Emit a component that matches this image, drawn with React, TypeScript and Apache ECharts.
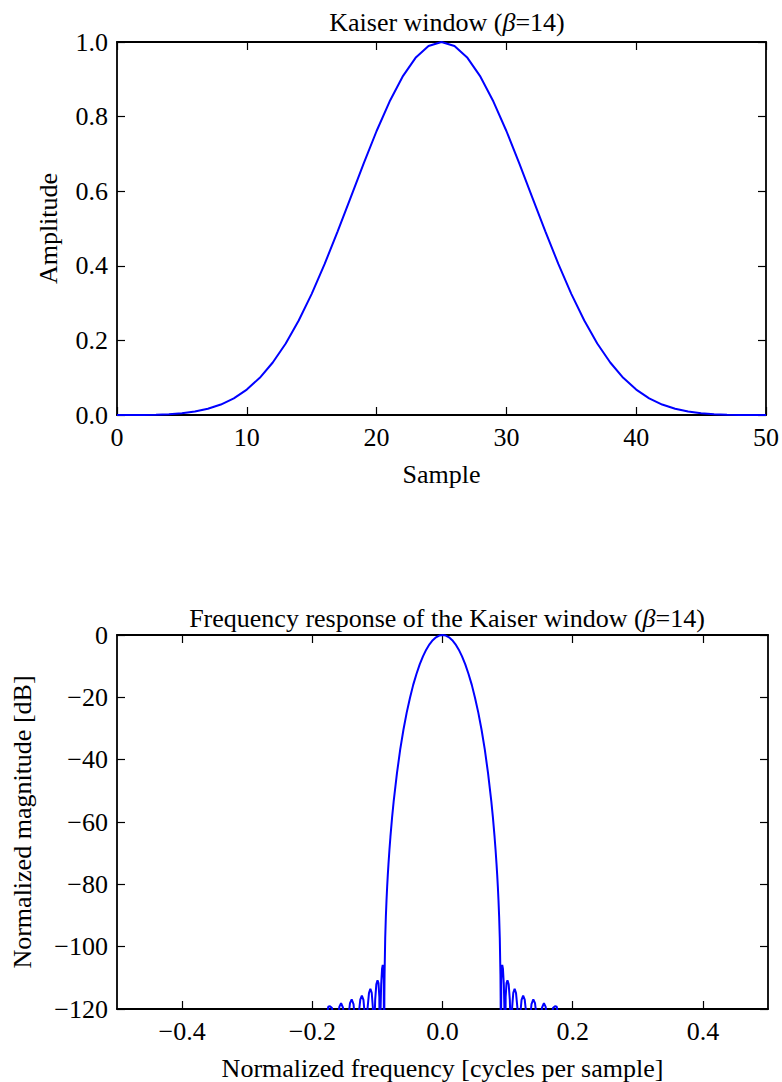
import React, { useEffect, useRef } from "react";
import * as echarts from "echarts";

// ---- Top panel: Kaiser window (beta = 14), 51 samples ----
const sampleIndex = [
  0, 1, 2, 3, 4, 5, 6, 7, 8, 9, 10, 11, 12, 13, 14, 15, 16, 17, 18, 19, 20, 21, 22, 23, 24, 25,
  26, 27, 28, 29, 30, 31, 32, 33, 34, 35, 36, 37, 38, 39, 40, 41, 42, 43, 44, 45, 46, 47, 48, 49, 50,
];
const windowValues = [
  0.0000077, 0.000081, 0.000326, 0.000943, 0.002266, 0.004805, 0.009276, 0.01661, 0.02798, 0.04468,
  0.0682, 0.0998, 0.1407, 0.1918, 0.2534, 0.3248, 0.4051, 0.4923, 0.583, 0.6741, 0.7614, 0.8404,
  0.907, 0.9576, 0.9893, 1.0, 0.9893, 0.9576, 0.907, 0.8404, 0.7614, 0.6741, 0.583, 0.4923, 0.4051,
  0.3248, 0.2534, 0.1918, 0.1407, 0.0998, 0.0682, 0.04468, 0.02798, 0.01661, 0.009276, 0.004805,
  0.002266, 0.000943, 0.000326, 0.000081, 0.0000077,
];

// ---- Bottom panel: frequency response in dB (values below -120 are clipped) ----
const leftSideFreq = [
  -0.5, -0.1815, -0.1785, -0.1756, -0.1728, -0.1697, -0.167, -0.1642, -0.161, -0.1585, -0.1558,
  -0.1528, -0.15, -0.1475, -0.1447, -0.1421, -0.1395, -0.1367, -0.1345, -0.13133, -0.12871, -0.12629,
  -0.1239, -0.12143, -0.11941, -0.11742, -0.11651, -0.11509, -0.11295, -0.1108, -0.10873, -0.107,
  -0.10534, -0.10458, -0.1034, -0.10166, -0.0998, -0.09833, -0.09702, -0.09578, -0.09514, -0.09424,
  -0.09284, -0.09177, -0.09102, -0.09024,
];
const leftSideDb = [
  -160, -160, -125, -119.3, -119.1, -119.7, -125, -160, -125, -119.3, -118.1, -119.6, -125, -160,
  -122.8, -118.1, -116.9, -118.4, -123.2, -160, -121.7, -117.0, -115.7, -117.1, -121.8, -160, -127.7,
  -119.7, -114.9, -113.5, -114.8, -119.4, -160, -125.2, -117.0, -112.1, -110.8, -111.7, -116.1, -160,
  -120.4, -112.3, -107.1, -105.9, -106.7, -110.7,
];
const mainLobeFreq = [
  -0.08955, -0.0893, -0.089, -0.088, -0.087, -0.086, -0.085, -0.084, -0.083, -0.0815, -0.08, -0.0775,
  -0.075, -0.07, -0.065, -0.06, -0.055, -0.05, -0.045, -0.04, -0.035, -0.03, -0.025, -0.02, -0.015,
  -0.01, -0.005, 0, 0.005, 0.01, 0.015, 0.02, 0.025, 0.03, 0.035, 0.04, 0.045, 0.05, 0.055, 0.06,
  0.065, 0.07, 0.075, 0.0775, 0.08, 0.0815, 0.083, 0.084, 0.085, 0.086, 0.087, 0.088, 0.089, 0.0893,
  0.08955,
];
const mainLobeDb = [
  -160, -116.5, -108.9, -97.2, -90.3, -85.1, -80.7, -76.9, -73.5, -68.9, -64.8, -58.7, -53.4, -44.4,
  -36.8, -30.4, -24.9, -20.2, -16.0, -12.5, -9.42, -6.85, -4.71, -3.0, -1.68, -0.74, -0.19, 0, -0.19,
  -0.74, -1.68, -3.0, -4.71, -6.85, -9.42, -12.5, -16.0, -20.2, -24.9, -30.4, -36.8, -44.4, -53.4,
  -58.7, -64.8, -68.9, -73.5, -76.9, -80.7, -85.1, -90.3, -97.2, -108.9, -116.5, -160,
];
const rightSideFreq = [
  0.09024, 0.09102, 0.09177, 0.09284, 0.09424, 0.09514, 0.09578, 0.09702, 0.09833, 0.0998, 0.10166,
  0.1034, 0.10458, 0.10534, 0.107, 0.10873, 0.1108, 0.11295, 0.11509, 0.11651, 0.11742, 0.11941,
  0.12143, 0.1239, 0.12629, 0.12871, 0.13133, 0.1345, 0.1367, 0.1395, 0.1421, 0.1447, 0.1475, 0.15,
  0.1528, 0.1558, 0.1585, 0.161, 0.1642, 0.167, 0.1697, 0.1728, 0.1756, 0.1785, 0.1815, 0.5,
];
const rightSideDb = [
  -110.7, -106.7, -105.9, -107.1, -112.3, -120.4, -160, -116.1, -111.7, -110.8, -112.1, -117.0,
  -125.2, -160, -119.4, -114.8, -113.5, -114.9, -119.7, -127.7, -160, -121.8, -117.1, -115.7, -117.0,
  -121.7, -160, -123.2, -118.4, -116.9, -118.1, -122.8, -160, -125, -119.6, -118.1, -119.3, -125,
  -160, -125, -119.7, -119.1, -119.3, -125, -160, -160,
];

const bottomXTicks = [-0.4, -0.2, 0, 0.2, 0.4];

const FONT = '"Liberation Serif", "Times New Roman", Times, serif';
const BLUE = "#0000ff";
const FS = 26;

function zip(xs: number[], ys: number[]) {
  return xs.map((x, i) => [x, ys[i]]);
}

const minus = (s: string) => s.replace("-", "\u2212");

export default function App() {
  const ref = useRef<HTMLDivElement>(null);

  useEffect(() => {
    if (!ref.current) return;
    const chart = echarts.init(ref.current, null, { renderer: "svg" });

    const spine = { show: true, onZero: false, lineStyle: { color: "#000", width: 1.8 } };
    const tick = { show: true, inside: true, length: 8, lineStyle: { color: "#000", width: 1.2 } };
    const label = { fontFamily: FONT, fontSize: FS, color: "#000" };
    const nameStyle = { fontFamily: FONT, fontSize: FS, color: "#000" };
    const titleStyle = {
      fontFamily: FONT,
      fontSize: FS,
      fontWeight: "normal" as const,
      color: "#000",
      rich: {
        b: { fontFamily: FONT, fontSize: FS, fontStyle: "italic" as const, color: "#000" },
      },
    };

    const responseData = [
      ...zip(leftSideFreq, leftSideDb),
      ...zip(mainLobeFreq, mainLobeDb),
      ...zip(rightSideFreq, rightSideDb),
    ];

    chart.setOption({
      animation: false,
      backgroundColor: "#fff",
      title: [
        {
          text: "Kaiser window ({b|β}=14)",
          left: 442,
          top: 4,
          textAlign: "center",
          textStyle: titleStyle,
        },
        {
          text: "Frequency response of the Kaiser window ({b|β}=14)",
          left: 442,
          top: 600,
          textAlign: "center",
          textStyle: titleStyle,
        },
      ],
      grid: [
        { left: 117, right: 14, top: 42, height: 373 },
        { left: 117, right: 14, top: 635, height: 374 },
      ],
      xAxis: [
        {
          type: "value",
          gridIndex: 0,
          min: 0,
          max: 50,
          interval: 10,
          position: "bottom",
          axisLine: spine,
          axisTick: tick,
          splitLine: { show: false },
          axisLabel: { ...label, margin: 9, formatter: (v: number) => String(v) },
          name: "Sample",
          nameLocation: "middle",
          nameGap: 46,
          nameTextStyle: nameStyle,
        },
        {
          type: "value",
          gridIndex: 0,
          min: 0,
          max: 50,
          interval: 10,
          position: "top",
          axisLine: spine,
          axisTick: tick,
          splitLine: { show: false },
          axisLabel: { show: false },
        },
        {
          type: "value",
          gridIndex: 1,
          min: -0.5,
          max: 0.5,
          position: "bottom",
          axisLine: spine,
          axisTick: { ...tick, customValues: bottomXTicks },
          splitLine: { show: false },
          axisLabel: {
            ...label,
            margin: 9,
            customValues: bottomXTicks,
            formatter: (v: number) => minus(v.toFixed(1)),
          },
          name: "Normalized frequency [cycles per sample]",
          nameLocation: "middle",
          nameGap: 46,
          nameTextStyle: nameStyle,
        },
        {
          type: "value",
          gridIndex: 1,
          min: -0.5,
          max: 0.5,
          position: "top",
          axisLine: spine,
          axisTick: { ...tick, customValues: bottomXTicks },
          splitLine: { show: false },
          axisLabel: { show: false },
        },
      ],
      yAxis: [
        {
          type: "value",
          gridIndex: 0,
          min: 0,
          max: 1,
          interval: 0.2,
          position: "left",
          axisLine: spine,
          axisTick: tick,
          splitLine: { show: false },
          axisLabel: { ...label, margin: 9, formatter: (v: number) => v.toFixed(1) },
          name: "Amplitude",
          nameLocation: "middle",
          nameGap: 56,
          nameTextStyle: nameStyle,
        },
        {
          type: "value",
          gridIndex: 0,
          min: 0,
          max: 1,
          interval: 0.2,
          position: "right",
          axisLine: spine,
          axisTick: tick,
          splitLine: { show: false },
          axisLabel: { show: false },
        },
        {
          type: "value",
          gridIndex: 1,
          min: -120,
          max: 0,
          interval: 20,
          position: "left",
          axisLine: spine,
          axisTick: tick,
          splitLine: { show: false },
          axisLabel: { ...label, margin: 9, formatter: (v: number) => minus(String(v)) },
          name: "Normalized magnitude [dB]",
          nameLocation: "middle",
          nameGap: 82,
          nameTextStyle: nameStyle,
        },
        {
          type: "value",
          gridIndex: 1,
          min: -120,
          max: 0,
          interval: 20,
          position: "right",
          axisLine: spine,
          axisTick: tick,
          splitLine: { show: false },
          axisLabel: { show: false },
        },
      ],
      series: [
        {
          type: "line",
          xAxisIndex: 0,
          yAxisIndex: 0,
          data: zip(sampleIndex, windowValues),
          showSymbol: false,
          clip: true,
          lineStyle: { color: BLUE, width: 2 },
          itemStyle: { color: BLUE },
        },
        {
          type: "line",
          xAxisIndex: 2,
          yAxisIndex: 2,
          data: responseData,
          showSymbol: false,
          clip: true,
          lineStyle: { color: BLUE, width: 2 },
          itemStyle: { color: BLUE },
        },
      ],
    });

    return () => chart.dispose();
  }, []);

  return (
    <div
      ref={ref}
      style={{ position: "absolute", left: 0, top: 0, width: 782, height: 1082, background: "#fff" }}
    />
  );
}
